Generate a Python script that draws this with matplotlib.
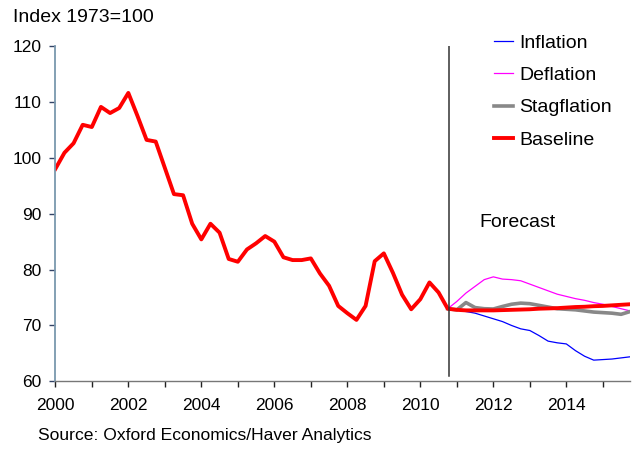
import numpy as np
import matplotlib
matplotlib.use("Agg")
import matplotlib.pyplot as plt
from matplotlib.ticker import MultipleLocator

plt.rcParams['font.family'] = ['Liberation Sans', 'DejaVu Sans']

# Quarterly index (1973=100), history from 2000Q1 to 2010Q4
history = [
    98.0, 100.9, 102.6, 105.9,
    105.5, 109.1, 108.0, 108.9,
    111.6, 107.5, 103.2, 102.9,
    98.2, 93.5, 93.3, 88.2,
    85.4, 88.2, 86.6, 81.9,
    81.4, 83.6, 84.7, 86.0,
    85.0, 82.2, 81.7, 81.7,
    82.0, 79.3, 77.1, 73.5,
    72.2, 71.0, 73.5, 81.5,
    82.9, 79.4, 75.5, 72.9,
    74.7, 77.7, 75.9, 73.0,
]

# Scenario paths, quarterly from 2010Q4 to 2015Q4
baseline_fc = [73.0, 72.8, 72.7, 72.7, 72.7, 72.7, 72.75, 72.8, 72.85, 72.9, 73.0,
               73.05, 73.1, 73.2, 73.3, 73.35, 73.45, 73.5, 73.6, 73.7, 73.8]
inflation = [73.0, 72.8, 72.5, 72.2, 71.7, 71.2, 70.7, 70.0, 69.4, 69.1, 68.2,
             67.2, 66.9, 66.7, 65.5, 64.5, 63.8, 63.9, 64.0, 64.2, 64.4]
deflation = [73.0, 74.3, 75.8, 77.0, 78.2, 78.7, 78.3, 78.2, 78.0, 77.4, 76.8,
             76.2, 75.6, 75.2, 74.8, 74.5, 74.1, 73.8, 73.4, 73.0, 72.6]
stagflation = [73.0, 72.8, 74.1, 73.2, 73.0, 72.95, 73.4, 73.8, 74.0, 73.9, 73.6,
               73.3, 73.0, 72.9, 72.8, 72.6, 72.4, 72.3, 72.2, 72.0, 72.5]

start_year = 2000
forecast_start = 2010.78
baseline = history + baseline_fc[1:]
t_base = start_year + np.arange(len(baseline)) / 4
t_fc = start_year + (len(history) - 1 + np.arange(len(inflation))) / 4

fig = plt.figure(figsize=(6.33, 4.49), dpi=100)
ax = fig.add_axes([0.0874, 0.1506, 0.9082, 0.747])

ax.plot(t_fc, inflation, color='#0000ff', lw=0.9, label='Inflation')
ax.plot(t_fc, deflation, color='#ff00ff', lw=0.9, label='Deflation')
ax.plot(t_fc, stagflation, color='#888888', lw=2.6, label='Stagflation')
ax.plot(t_base, baseline, color='#ff0000', lw=2.8, label='Baseline')

ax.axvline(forecast_start, ymin=0.015, ymax=1, color='#333333', lw=1.1)
ax.text(2011.62, 88.5, 'Forecast', fontsize=14, ha='left', va='center')

ax.set_xlim(2000, 2015.75)
ax.set_ylim(60, 120)
ax.xaxis.set_major_locator(MultipleLocator(2))
ax.xaxis.set_minor_locator(MultipleLocator(1))
ax.yaxis.set_major_locator(MultipleLocator(10))
ax.xaxis.set_major_formatter(plt.FuncFormatter(lambda v, p: f'{int(v)}'))

for side in ('top', 'right'):
    ax.spines[side].set_visible(False)
ax.spines['left'].set_color('#7a98ae')
ax.spines['left'].set_linewidth(1.3)
ax.spines['bottom'].set_color('#777777')
ax.spines['bottom'].set_linewidth(1.0)

ax.tick_params(axis='x', which='both', direction='out', length=4, width=1,
               color='#222222', labelsize=12.5, pad=8)
ax.tick_params(axis='y', which='both', direction='out', length=4, width=1,
               color='#334466', labelsize=12.5, pad=6)

ax.legend(loc='upper left', bbox_to_anchor=(0.732, 1.088), frameon=False,
          fontsize=14, handlelength=1.0, handletextpad=0.3, labelspacing=0.76)

fig.text(0.02, 0.96, 'Index 1973=100', fontsize=14, ha='left', va='center')
fig.text(0.06, 0.029, 'Source: Oxford Economics/Haver Analytics', fontsize=12.6,
         ha='left', va='center')

fig.savefig('out.png', dpi=100)
